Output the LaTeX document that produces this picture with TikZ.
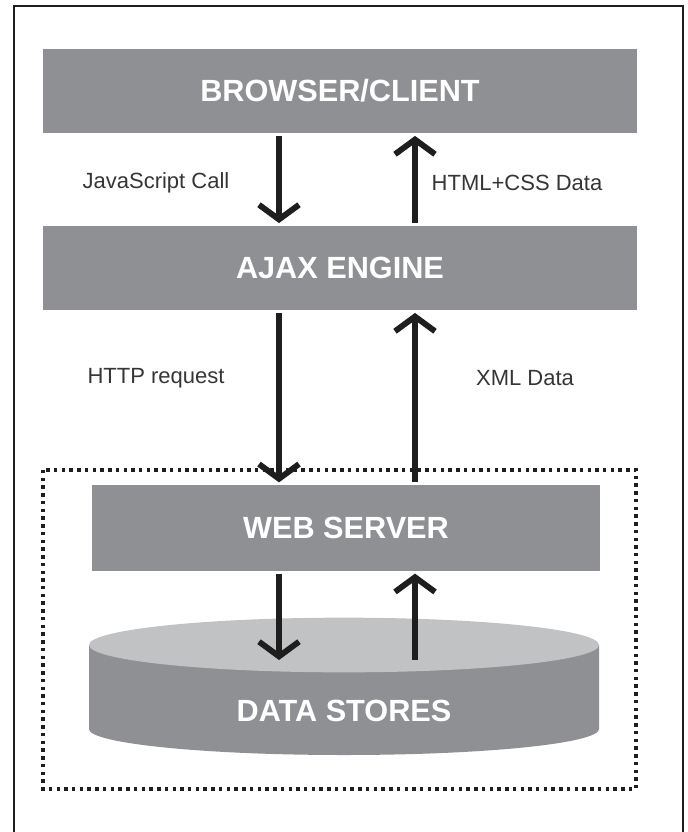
\documentclass[tikz,border=0pt]{standalone}
\usepackage{fontspec}
\setmainfont{Liberation Sans}
\usetikzlibrary{arrows.meta}

\definecolor{boxgray}{RGB}{143,144,148}
\definecolor{topgray}{RGB}{193,194,196}
\definecolor{inkgray}{RGB}{30,30,30}

\begin{document}
\begin{tikzpicture}[x=0.75pt, y=-0.75pt,
        box/.style = {fill=boxgray, text=white, inner sep=0pt,
                font=\bfseries\fontsize{23}{27}\selectfont},
        lbl/.style = {text=inkgray!90, font=\fontsize{16.5}{20}\selectfont},
        arr/.style = {draw=inkgray, line width=4.4pt, shorten <=2pt, shorten >=2pt,
                -{Straight Barb[length=11pt, width=30pt, line width=4.4pt]}}]
        \useasboundingbox (0,0) rectangle (688,832);
        \draw[inkgray, line width=1.8pt] (14,6) rectangle (683,870);
        \draw[inkgray, line width=2.7pt, dash pattern=on 2.6pt off 3.2pt] (43,470) rectangle (636,789);

        % columns of the two arrows
        \coordinate (dn) at (279,0);
        \coordinate (up) at (415,0);

        \node[box, minimum width=445.5pt, minimum height=63pt] at (340,91) (bc) {BROWSER/CLIENT};
        \node[box, minimum width=445.5pt, minimum height=63pt] at (340,268) (ae) {AJAX ENGINE};
        \node[box, minimum width=381pt, minimum height=64pt] at (346,528) (ws) {WEB SERVER};

        % data stores cylinder
        \fill[boxgray] (89,645) -- (89,729) arc[start angle=180, end angle=360, x radius=191.25pt, y radius=19.5pt] -- (599,645) -- cycle;
        \fill[topgray] (344,645) ellipse[x radius=191.25pt, y radius=20.5pt];
        \node[box, fill=none] at (344,711) (ds) {DATA STORES};
        \coordinate (dsin) at (344,660);

        \node[lbl] at (156,183) (js) {JavaScript Call};
        \node[lbl] at (517,183) (hc) {HTML+CSS Data};
        \node[lbl] at (156,378) (hr) {HTTP request};
        \node[lbl] at (525,378) (xd) {XML Data};

        \draw[arr] (bc.south -| dn) -- (ae.north -| dn);
        \draw[arr] (ae.north -| up) -- (bc.south -| up);
        \draw[arr] (ae.south -| dn) -- (ws.north -| dn);
        \draw[arr] (ws.north -| up) -- (ae.south -| up);
        \draw[arr, shorten >=0pt] (ws.south -| dn) -- (dsin -| dn);
        \draw[arr, shorten <=0pt] (dsin -| up) -- (ws.south -| up);
\end{tikzpicture}
\end{document}
